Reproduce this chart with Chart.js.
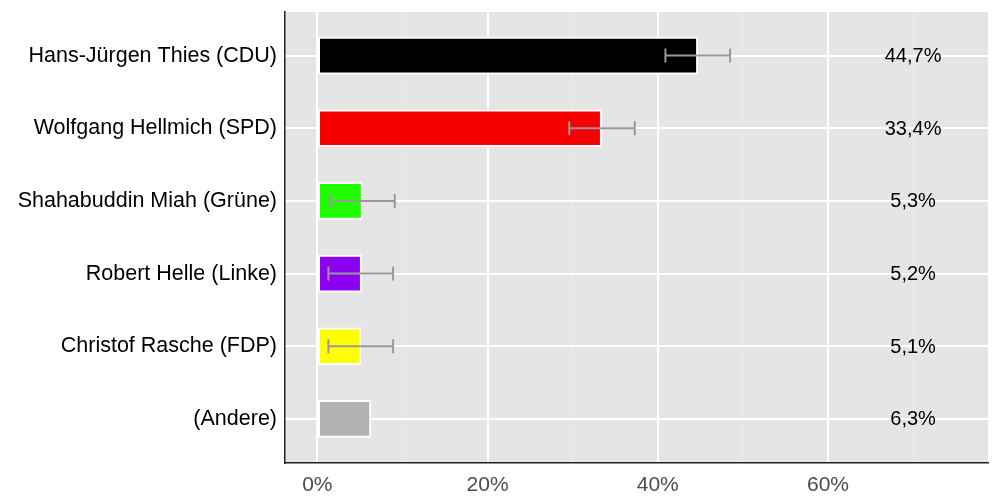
<!DOCTYPE html>
<html>
<head>
<meta charset="utf-8">
<script src="https://cdn.jsdelivr.net/npm/chart.js@4/dist/chart.umd.min.js"></script>
<style>
html,body{margin:0;padding:0;background:#fff;}
canvas{display:block;}
</style>
</head>
<body>
<canvas id="c" width="1000" height="500"></canvas>
<script>
const categories = ['Hans-Jürgen Thies (CDU)','Wolfgang Hellmich (SPD)','Shahabuddin Miah (Grüne)','Robert Helle (Linke)','Christof Rasche (FDP)','(Andere)'];
const values = [44.7, 33.4, 5.3, 5.2, 5.1, 6.3];
const errLow = [40.9, 29.6, 1.5, 1.3, 1.3, null];
const errHigh = [48.5, 37.3, 9.1, 8.9, 8.9, null];
const valueLabels = ['44,7%','33,4%','5,3%','5,2%','5,1%','6,3%'];
const xTicks = [0, 10, 20, 30, 40, 50, 60, 70];
const labelPosition = 70;

const barColors = ['#000000','#f70000','#1fff00','#8b00ef','#ffff00','#b3b3b3'];
const FONT = '"Liberation Sans", Arial, Helvetica, sans-serif';

const bgPlugin = {
  id: 'bg',
  beforeDraw(chart) {
    const {ctx, chartArea: a} = chart;
    ctx.save();
    ctx.fillStyle = '#e5e5e5';
    ctx.fillRect(a.left, a.top, a.right - a.left, a.bottom - a.top);
    ctx.restore();
  }
};

const overlayPlugin = {
  id: 'overlay',
  afterDatasetsDraw(chart) {
    const {ctx, scales: {x, y}} = chart;
    ctx.save();
    ctx.strokeStyle = '#999999';
    ctx.lineWidth = 2;
    errLow.forEach((lo, i) => {
      if (lo == null) return;
      const x1 = x.getPixelForValue(lo), x2 = x.getPixelForValue(errHigh[i]);
      const yc = y.getPixelForValue(i);
      ctx.beginPath();
      ctx.moveTo(x1, yc); ctx.lineTo(x2, yc);
      ctx.moveTo(x1, yc - 7); ctx.lineTo(x1, yc + 7);
      ctx.moveTo(x2, yc - 7); ctx.lineTo(x2, yc + 7);
      ctx.stroke();
    });
    ctx.fillStyle = '#000000';
    ctx.font = '20px ' + FONT;
    ctx.textAlign = 'center';
    ctx.textBaseline = 'middle';
    valueLabels.forEach((t, i) => {
      ctx.fillText(t, x.getPixelForValue(labelPosition), y.getPixelForValue(i) + 1);
    });
    ctx.restore();
  }
};

new Chart(document.getElementById('c'), {
  type: 'bar',
  data: {
    datasets: [{
      data: values.map((v, i) => ({x: v, y: i})),
      backgroundColor: barColors,
      borderColor: '#ffffff',
      borderWidth: 2,
      borderSkipped: false,
      barThickness: 37
    }]
  },
  options: {
    indexAxis: 'y',
    responsive: false,
    animation: false,
    devicePixelRatio: 1,
    layout: {padding: {left: 0, top: 12, right: 12, bottom: 0}},
    plugins: {legend: {display: false}, tooltip: {enabled: false}},
    scales: {
      x: {
        type: 'linear',
        min: -3.8,
        max: 78.8,
        offset: false,
        afterBuildTicks: s => { s.ticks = xTicks.map(v => ({value: v})); },
        afterFit: s => { s.height = 37.5; s.paddingLeft = 0; s.paddingRight = 0; },
        grid: {
          offset: false,
          color: c => (c.tick && c.tick.value % 20 === 0) ? '#ffffff' : '#ececec',
          lineWidth: c => (c.tick && c.tick.value % 20 === 0) ? 2 : 1,
          drawTicks: false
        },
        border: {display: true, color: '#222222', width: 1.5},
        ticks: {
          autoSkip: false,
          maxRotation: 0,
          padding: 10,
          color: '#4d4d4d',
          font: {family: FONT, size: 21},
          callback: v => (v % 20 === 0) ? v + '%' : ''
        }
      },
      y: {
        type: 'linear',
        min: -0.6,
        max: 5.6,
        reverse: true,
        offset: false,
        afterBuildTicks: s => { s.ticks = categories.map((_, i) => ({value: i})); },
        afterFit: s => { s.width = 285; s.paddingTop = 0; s.paddingBottom = 0; },
        grid: {offset: false, color: '#ffffff', lineWidth: 2, drawTicks: false},
        border: {display: true, color: '#222222', width: 1.5},
        ticks: {
          autoSkip: false,
          padding: 8,
          color: '#000000',
          font: {family: FONT, size: 21.5},
          callback: v => categories[v]
        }
      }
    }
  },
  plugins: [bgPlugin, overlayPlugin]
});
</script>
</body>
</html>
